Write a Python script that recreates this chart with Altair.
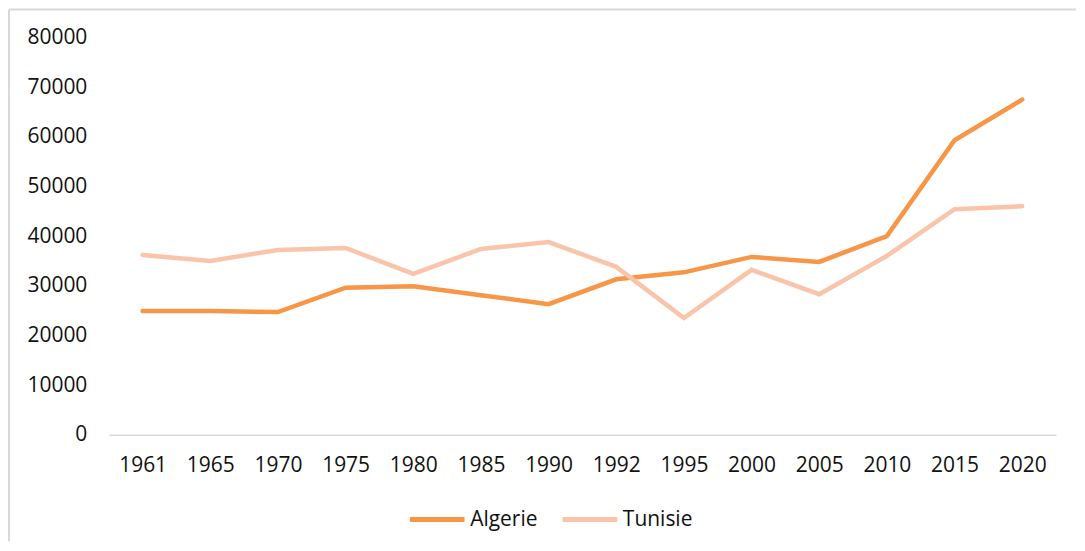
import altair as alt
import pandas as pd

years = ["1961", "1965", "1970", "1975", "1980", "1985", "1990", "1992",
         "1995", "2000", "2005", "2010", "2015", "2020"]
algerie = [24900, 24900, 24700, 29600, 29900, 28100, 26300, 31300,
           32700, 35800, 34800, 40000, 59300, 67500]
tunisie = [36200, 35000, 37200, 37600, 32400, 37400, 38800, 33800,
           23500, 33200, 28300, 36000, 45400, 46000]
series = ["Algerie", "Tunisie"]
colors = ["#F79646", "#F9C4A9"]

rows = []
for i, y in enumerate(years):
    rows.append({"year": y, "value": algerie[i], "country": series[0]})
    rows.append({"year": y, "value": tunisie[i], "country": series[1]})
df = pd.DataFrame(rows)

FONT = "Open Sans"
FS = 21

lines = alt.Chart(df).mark_line(strokeWidth=4.5, strokeCap="round").encode(
    x=alt.X("year:N", sort=years, title=None,
            scale=alt.Scale(paddingInner=0, paddingOuter=0.5),
            axis=alt.Axis(labelAngle=0, ticks=False, domainColor="#D9D9D9",
                          domainWidth=1.5, labelPadding=20, labelFontSize=FS,
                          labelFont=FONT, labelColor="#111111", grid=False)),
    y=alt.Y("value:Q", title=None,
            scale=alt.Scale(domain=[0, 80000]),
            axis=alt.Axis(values=list(range(0, 80001, 10000)), format="d",
                          domain=False, ticks=False, grid=False,
                          labelPadding=22, labelFontSize=FS, labelFont=FONT,
                          labelColor="#111111")),
    color=alt.Color("country:N", scale=alt.Scale(domain=series, range=colors),
                    legend=alt.Legend(orient="none", legendX=299, legendY=453,
                                      direction="horizontal", title=None,
                                      symbolType="stroke", symbolSize=3000,
                                      symbolStrokeWidth=5, labelFontSize=FS,
                                      labelFont=FONT, labelColor="#111111",
                                      columnPadding=14, labelOffset=3)),
)

one = pd.DataFrame({"a": [0]})
top_border = alt.Chart(one).mark_rule(color="#D9D9D9", strokeWidth=2).encode(
    x=alt.value(-100), x2=alt.value(969), y=alt.value(-28))
left_border = alt.Chart(one).mark_rule(color="#D9D9D9", strokeWidth=2).encode(
    x=alt.value(-100), y=alt.value(-28), y2=alt.value(505))

chart = alt.layer(lines, top_border, left_border).properties(
    width=949, height=398, padding=0
).configure_view(stroke=None)

chart.save("out.html", embed_options={"renderer": "svg", "actions": False})
